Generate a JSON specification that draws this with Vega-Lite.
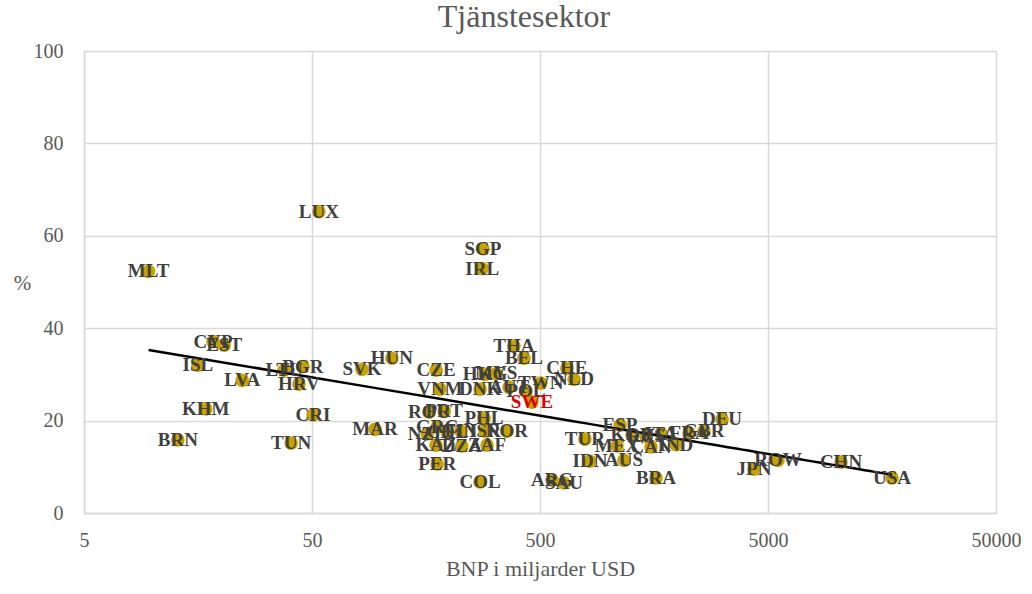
{
  "$schema": "https://vega.github.io/schema/vega-lite/v6.json",
  "autosize": "none",
  "width": 912,
  "height": 462,
  "padding": {"left": 84, "top": 51, "right": 36, "bottom": 81},
  "background": "white",
  "config": {
    "view": {"stroke": null},
    "font": "Liberation Serif"
  },
  "title": {
    "text": "Tjänstesektor",
    "font": "Liberation Serif",
    "fontSize": 32,
    "fontWeight": "normal",
    "color": "#595959",
    "anchor": "middle",
    "dx": -16,
    "offset": 7
  },
  "data": {
    "values": [
      {"land": "MLT", "bnp": 9.6, "andel": 52.3},
      {"land": "LUX", "bnp": 53.6, "andel": 65.2},
      {"land": "SGP", "bnp": 281, "andel": 57.2},
      {"land": "IRL", "bnp": 279, "andel": 52.9},
      {"land": "CYP", "bnp": 18.4, "andel": 37.1},
      {"land": "EST", "bnp": 20.6, "andel": 36.3},
      {"land": "ISL", "bnp": 15.8, "andel": 32.0},
      {"land": "LVA", "bnp": 24.7, "andel": 28.7},
      {"land": "LTU", "bnp": 37.7, "andel": 30.9},
      {"land": "BGR", "bnp": 45.6, "andel": 31.7},
      {"land": "HRV", "bnp": 43.8, "andel": 27.9},
      {"land": "KHM", "bnp": 17.1, "andel": 22.5},
      {"land": "BRN", "bnp": 12.9, "andel": 15.8},
      {"land": "TUN", "bnp": 40.5, "andel": 15.1},
      {"land": "CRI", "bnp": 50.5, "andel": 21.2},
      {"land": "SVK", "bnp": 82.8, "andel": 31.1},
      {"land": "HUN", "bnp": 112, "andel": 33.5},
      {"land": "MAR", "bnp": 94.5, "andel": 18.1},
      {"land": "CZE", "bnp": 175, "andel": 30.9},
      {"land": "VNM", "bnp": 182, "andel": 26.8},
      {"land": "THA", "bnp": 384, "andel": 36.1},
      {"land": "BEL", "bnp": 425, "andel": 33.5},
      {"land": "CHE", "bnp": 656, "andel": 31.3},
      {"land": "NLD", "bnp": 705, "andel": 28.9},
      {"land": "HKG", "bnp": 287, "andel": 30.0},
      {"land": "MYS", "bnp": 321, "andel": 30.2},
      {"land": "DNK", "bnp": 273, "andel": 26.8},
      {"land": "AUT", "bnp": 366, "andel": 27.2},
      {"land": "POL", "bnp": 434, "andel": 26.3},
      {"land": "TWN", "bnp": 504, "andel": 28.1},
      {"land": "SWE", "bnp": 461, "andel": 24.0},
      {"land": "ROU", "bnp": 163, "andel": 21.8},
      {"land": "PRT", "bnp": 190, "andel": 22.0},
      {"land": "GRC", "bnp": 177, "andel": 18.6},
      {"land": "CHL", "bnp": 196, "andel": 17.5},
      {"land": "NZL", "bnp": 160, "andel": 17.1},
      {"land": "FIN", "bnp": 225, "andel": 17.7},
      {"land": "ISR", "bnp": 287, "andel": 17.7},
      {"land": "NOR", "bnp": 358, "andel": 17.7},
      {"land": "PHL", "bnp": 284, "andel": 20.5},
      {"land": "KAZ", "bnp": 175, "andel": 14.7},
      {"land": "DZA", "bnp": 227, "andel": 14.5},
      {"land": "ZAF", "bnp": 293, "andel": 14.7},
      {"land": "PER", "bnp": 177, "andel": 10.6},
      {"land": "COL", "bnp": 273, "andel": 6.7},
      {"land": "ARG", "bnp": 565, "andel": 7.1},
      {"land": "SAU", "bnp": 637, "andel": 6.5},
      {"land": "TUR", "bnp": 787, "andel": 16.0},
      {"land": "IDN", "bnp": 828, "andel": 11.2},
      {"land": "AUS", "bnp": 1168, "andel": 11.4},
      {"land": "ESP", "bnp": 1122, "andel": 19.0},
      {"land": "KOR", "bnp": 1267, "andel": 16.8},
      {"land": "RUS", "bnp": 1459, "andel": 16.6},
      {"land": "MEX", "bnp": 1088, "andel": 14.5},
      {"land": "CAN", "bnp": 1534, "andel": 14.3},
      {"land": "ITA", "bnp": 1698, "andel": 17.2},
      {"land": "IND", "bnp": 1973, "andel": 14.8},
      {"land": "FRA", "bnp": 2254, "andel": 17.3},
      {"land": "GBR", "bnp": 2618, "andel": 17.7},
      {"land": "DEU", "bnp": 3143, "andel": 20.3},
      {"land": "BRA", "bnp": 1613, "andel": 7.6},
      {"land": "JPN", "bnp": 4341, "andel": 9.5},
      {"land": "ROW", "bnp": 5530, "andel": 11.4},
      {"land": "CHN", "bnp": 10451, "andel": 11.0},
      {"land": "USA", "bnp": 17496, "andel": 7.6}
    ]
  },
  "encoding": {
    "x": {
      "field": "bnp",
      "type": "quantitative",
      "scale": {"type": "log", "domain": [5, 50000], "nice": false},
      "axis": {
        "title": "BNP i miljarder USD",
        "values": [5, 50, 500, 5000, 50000],
        "format": "d",
        "grid": true,
        "gridColor": "#D9D9D9",
        "gridWidth": 1.5,
        "domainColor": "#D9D9D9",
        "domainWidth": 1.5,
        "ticks": false,
        "labelFlush": false,
        "labelOverlap": false,
        "labelFont": "Liberation Serif",
        "labelFontSize": 20,
        "labelColor": "#595959",
        "labelPadding": 17,
        "titleFont": "Liberation Serif",
        "titleFontSize": 22,
        "titleFontWeight": "normal",
        "titleColor": "#595959",
        "titlePadding": 8
      }
    },
    "y": {
      "field": "andel",
      "type": "quantitative",
      "scale": {"domain": [0, 100], "nice": false},
      "axis": {
        "title": "%",
        "values": [0, 20, 40, 60, 80, 100],
        "grid": true,
        "gridColor": "#D9D9D9",
        "gridWidth": 1.5,
        "domainColor": "#D9D9D9",
        "domainWidth": 1.5,
        "ticks": false,
        "labelFlush": false,
        "labelFont": "Liberation Serif",
        "labelFontSize": 20,
        "labelColor": "#595959",
        "labelPadding": 21,
        "titleFont": "Liberation Serif",
        "titleFontSize": 21,
        "titleFontWeight": "normal",
        "titleColor": "#595959",
        "titleAngle": 0,
        "titleX": -62,
        "titleY": 232,
        "titleAlign": "center",
        "titleBaseline": "middle"
      }
    }
  },
  "layer": [
    {
      "mark": {"type": "circle", "size": 185, "color": "#C8A200", "opacity": 1}
    },
    {
      "transform": [
        {"regression": "andel", "on": "bnp", "method": "log"}
      ],
      "mark": {"type": "line", "color": "#000000", "strokeWidth": 2.5}
    },
    {
      "mark": {
        "type": "text",
        "font": "Liberation Serif",
        "fontSize": 19,
        "fontWeight": "bold",
        "align": "center",
        "baseline": "middle"
      },
      "encoding": {
        "text": {"field": "land"},
        "color": {
          "condition": {"test": "datum.land === 'SWE'", "value": "#E00000"},
          "value": "#404040"
        }
      }
    }
  ]
}
